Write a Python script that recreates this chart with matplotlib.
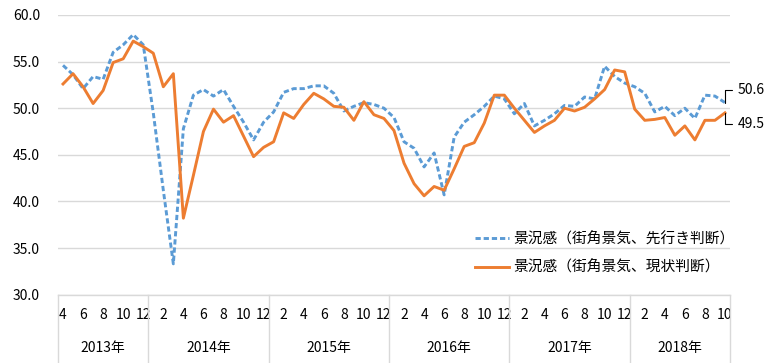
import matplotlib
matplotlib.use("Agg")
import matplotlib.pyplot as plt
import matplotlib.transforms as mtransforms
import numpy as np

plt.rcParams["font.family"] = ["Noto Sans CJK JP", "DejaVu Sans"]

# monthly data, Apr 2013 .. Oct 2018
years = [2013, 2014, 2015, 2016, 2017, 2018]
first_month = 4
last_month = 10

outlook = [54.6, 53.6, 52.1, 53.4, 53.1, 56.0, 56.8, 57.9, 56.8,
           49.5, 41.2, 33.3, 47.8, 51.4, 52.0, 51.3, 52.0, 50.2, 48.5, 46.6, 48.5, 49.6,
           51.7, 52.1, 52.1, 52.4, 52.4, 51.6, 49.7, 50.2, 50.6, 50.4, 50.0, 49.0,
           46.4, 45.7, 43.7, 45.2, 40.7, 46.9, 48.5, 49.3, 50.2, 51.3, 51.0, 49.4,
           50.5, 48.1, 48.7, 49.4, 50.3, 50.2, 51.2, 51.0, 54.5, 53.4, 52.7, 52.3,
           51.6, 49.6, 50.2, 49.2, 50.0, 48.9, 51.4, 51.3, 50.6]
current = [52.6, 53.7, 52.3, 50.5, 51.9, 54.9, 55.3, 57.2, 56.6,
           55.9, 52.3, 53.7, 38.2, 42.8, 47.5, 49.9, 48.5, 49.2, 47.0, 44.8, 45.8, 46.4,
           49.5, 48.9, 50.4, 51.6, 51.0, 50.2, 50.1, 48.7, 50.7, 49.3, 48.9, 47.6,
           44.1, 41.9, 40.6, 41.6, 41.2, 43.5, 45.9, 46.3, 48.4, 51.4, 51.4, 50.0,
           48.7, 47.4, 48.1, 48.7, 50.0, 49.7, 50.1, 51.0, 52.0, 54.1, 53.9, 49.9,
           48.7, 48.8, 49.0, 47.1, 48.1, 46.6, 48.7, 48.7, 49.5]

label_outlook = "景況感（街角景気、先行き判断）"
label_current = "景況感（街角景気、現状判断）"

BLUE = "#5B9BD5"
ORANGE = "#ED7D31"
GRID = "#D9D9D9"

# month / year for each point
months, year_of = [], []
for y in years:
    m0 = first_month if y == years[0] else 1
    m1 = last_month if y == years[-1] else 12
    for m in range(m0, m1 + 1):
        months.append(m)
        year_of.append(y)
x = np.arange(len(months))

fig = plt.figure(figsize=(7.73, 3.63), dpi=100)
ax = fig.add_axes([58 / 773, 1 - 294.6 / 363, 672 / 773, 279.6 / 363])

ax.plot(x, outlook, color=BLUE, lw=2.1, dashes=(1.8, 1.0), label=label_outlook)
ax.plot(x, current, color=ORANGE, lw=2.1, label=label_current)

ax.set_xlim(-0.5, len(x) - 0.5)
ax.set_ylim(30, 60)
ax.set_yticks(np.arange(30, 61, 5))
ax.set_yticklabels([f"{v:.1f}" for v in np.arange(30, 61, 5)])
ax.grid(axis="y", color=GRID, lw=1)
ax.set_axisbelow(True)
for s in ["top", "right", "left"]:
    ax.spines[s].set_visible(False)
ax.spines["bottom"].set_color(GRID)
ax.spines["bottom"].set_linewidth(1)

even = [i for i, m in enumerate(months) if m % 2 == 0]
ax.set_xticks(even)
ax.set_xticklabels([str(months[i]) for i in even])
ax.tick_params(axis="x", length=0, pad=10, labelsize=10)
ax.tick_params(axis="y", length=0, pad=13, labelsize=10)

# year groups below the month labels
trans = mtransforms.blended_transform_factory(ax.transData, ax.transAxes)
bounds = [-0.5]
for y in years:
    idx = [i for i, yy in enumerate(year_of) if yy == y]
    bounds.append(idx[-1] + 0.5)
    ax.text((idx[0] + idx[-1]) / 2, -0.19, f"{y}年", transform=trans,
            ha="center", va="center", fontsize=10)
for b in bounds:
    ax.plot([b, b], [0, -0.26], transform=trans, color=GRID, lw=1, clip_on=False)

# end labels with leader lines
ax.annotate(f"{outlook[-1]:.1f}", xy=(x[-1], outlook[-1]), xytext=(9, 8.8),
            textcoords="offset points", ha="left", va="center", fontsize=10,
            arrowprops=dict(arrowstyle="-", color="black", lw=0.8,
                            connectionstyle="angle,angleA=0,angleB=90,rad=0",
                            shrinkA=2, shrinkB=0))
ax.annotate(f"{current[-1]:.1f}", xy=(x[-1], current[-1]), xytext=(9, -7.8),
            textcoords="offset points", ha="left", va="center", fontsize=10,
            arrowprops=dict(arrowstyle="-", color="black", lw=0.8,
                            connectionstyle="angle,angleA=0,angleB=90,rad=0",
                            shrinkA=2, shrinkB=0))

ax.legend(loc="center left", bbox_to_anchor=(468 / 773, 1 - 253.5 / 363),
          bbox_transform=fig.transFigure, frameon=False, fontsize=10.6,
          handlelength=2.3, handletextpad=0.3, labelspacing=0.95, borderpad=0)

fig.savefig("out.png", dpi=100)
